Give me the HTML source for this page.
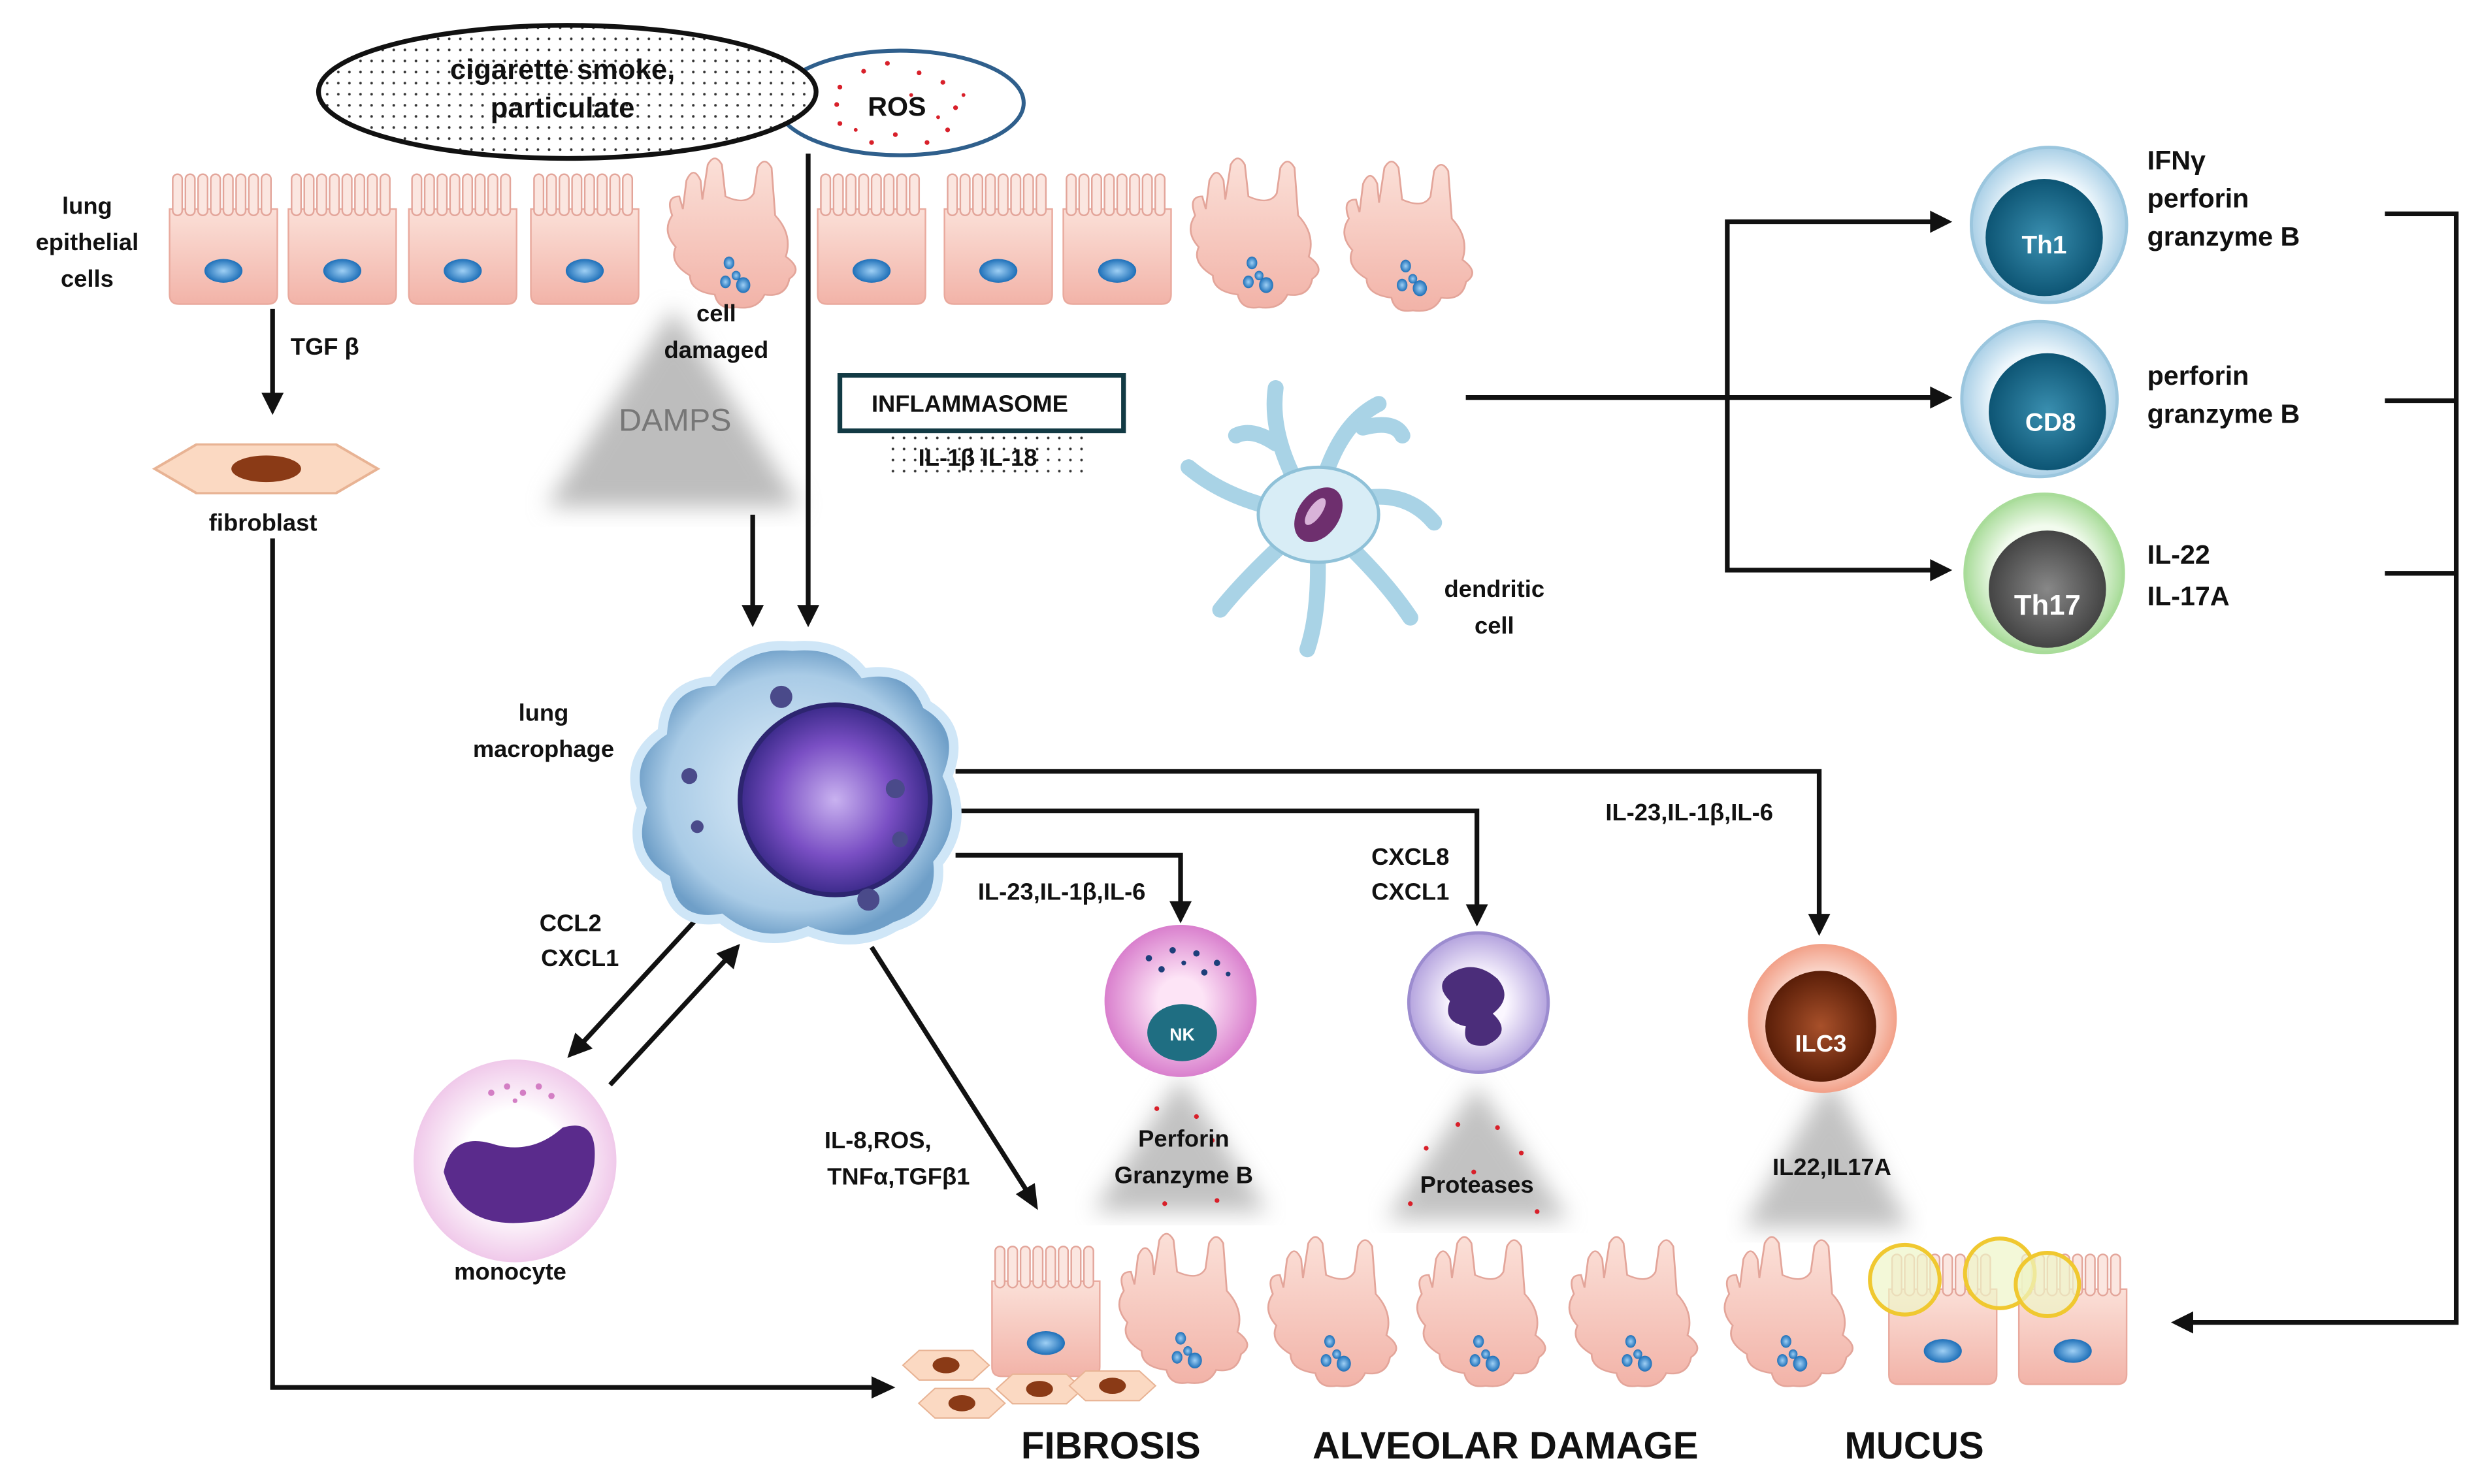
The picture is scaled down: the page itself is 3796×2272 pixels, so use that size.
<!DOCTYPE html>
<html><head><meta charset="utf-8"><style>
html,body{margin:0;padding:0;background:#fff}
svg{display:block}
text{font-family:"Liberation Sans",Arial,sans-serif;font-weight:bold;fill:#111}
</style></head><body>
<svg width="3796" height="2272" viewBox="0 0 1565 937" preserveAspectRatio="none" xmlns="http://www.w3.org/2000/svg">
<defs>
<pattern id="dots" width="7" height="7" patternUnits="userSpaceOnUse"><rect width="7" height="7" fill="#fff"/><circle cx="3.5" cy="3.5" r="0.8" fill="#333"/></pattern>
<linearGradient id="cellg" x1="0" y1="0" x2="0" y2="1"><stop offset="0" stop-color="#fbe0d8"/><stop offset="1" stop-color="#f2b3a8"/></linearGradient>
<radialGradient id="nucg"><stop offset="0" stop-color="#9fd0f5"/><stop offset="1" stop-color="#1d6fb8"/></radialGradient>
<radialGradient id="macg"><stop offset="0" stop-color="#e4f1fb"/><stop offset="0.8" stop-color="#a9cbe6"/><stop offset="1" stop-color="#6f9fc8"/></radialGradient>
<radialGradient id="macn"><stop offset="0" stop-color="#c9b2f0"/><stop offset="0.6" stop-color="#7a4fc4"/><stop offset="1" stop-color="#3b2a8a"/></radialGradient>
<radialGradient id="th1o"><stop offset="0.6" stop-color="#eef7fc"/><stop offset="1" stop-color="#a9cfe6"/></radialGradient>
<radialGradient id="th1i"><stop offset="0" stop-color="#3a8fb0"/><stop offset="1" stop-color="#0d5574"/></radialGradient>
<radialGradient id="th17o"><stop offset="0.6" stop-color="#f2fbee"/><stop offset="1" stop-color="#a9dc9a"/></radialGradient>
<radialGradient id="th17i"><stop offset="0" stop-color="#888"/><stop offset="1" stop-color="#444"/></radialGradient>
<radialGradient id="monog"><stop offset="0.5" stop-color="#fff"/><stop offset="1" stop-color="#f0c9ea"/></radialGradient>
<radialGradient id="nkg"><stop offset="0.3" stop-color="#fde4f6"/><stop offset="1" stop-color="#d97fcd"/></radialGradient>
<radialGradient id="neug"><stop offset="0.4" stop-color="#fbf7ff"/><stop offset="1" stop-color="#b4a3de"/></radialGradient>
<radialGradient id="ilco"><stop offset="0.5" stop-color="#fde9e2"/><stop offset="1" stop-color="#f2a088"/></radialGradient>
<radialGradient id="ilci"><stop offset="0" stop-color="#a8502a"/><stop offset="1" stop-color="#5a1e08"/></radialGradient>
<filter id="blur"><feGaussianBlur stdDeviation="7"/></filter>
<g id="nc">
 <path d="M2,22 L70,22 L70,76 Q70,82 64,82 L8,82 Q2,82 2,76 Z" fill="url(#cellg)" stroke="#e9a99d" stroke-width="1"/>
 <g fill="#fbe6e0" stroke="#e3a59a" stroke-width="1">
 <rect x="4" y="0" width="6" height="26" rx="3"/><rect x="12" y="0" width="6" height="26" rx="3"/><rect x="20" y="0" width="6" height="26" rx="3"/><rect x="28" y="0" width="6" height="26" rx="3"/><rect x="36" y="0" width="6" height="26" rx="3"/><rect x="44" y="0" width="6" height="26" rx="3"/><rect x="52" y="0" width="6" height="26" rx="3"/><rect x="60" y="0" width="6" height="26" rx="3"/>
 </g>
 <ellipse cx="36" cy="61" rx="12" ry="7.5" fill="url(#nucg)"/>
</g>
<g id="dc0">
 <path d="M10,40 Q6,28 14,28 L16,36 L18,18 Q22,8 26,18 L27,30 L30,8 Q34,0 38,8 L40,28 Q52,34 56,26 L58,10 Q62,2 66,10 L68,40 Q78,52 74,66 Q84,74 76,80 Q74,92 62,90 Q58,100 46,98 Q36,100 34,90 Q20,88 20,78 Q8,70 12,60 Q4,50 10,40 Z" fill="url(#cellg)" stroke="#e3a59a" stroke-width="1"/>
 <g fill="url(#nucg)"><ellipse cx="42" cy="70" rx="3" ry="4"/><ellipse cx="46" cy="78" rx="2.5" ry="3"/><ellipse cx="40" cy="82" rx="3" ry="4"/><ellipse cx="50" cy="84" rx="4" ry="5"/></g>
</g>
<g id="dc"><use href="#dc0" transform="scale(1.12,1)"/></g>
<g id="fb">
 <polygon points="-32,0 -20,-11 20,-11 32,0 20,11 -20,11" fill="#fbd9c2" stroke="#e8b394" stroke-width="1"/>
 <ellipse cx="0" cy="0" rx="10" ry="6" fill="#8a3a16"/>
</g>
</defs>

<ellipse cx="568" cy="65" rx="78" ry="33" fill="#fff" stroke="#2f5f8c" stroke-width="2.5"/>
<g fill="#d8202a">
<circle cx="530" cy="55" r="1.5"/><circle cx="545" cy="45" r="1.5"/><circle cx="560" cy="40" r="1.5"/><circle cx="580" cy="46" r="1.5"/><circle cx="595" cy="52" r="1.5"/><circle cx="603" cy="68" r="1.5"/><circle cx="598" cy="82" r="1.5"/><circle cx="585" cy="90" r="1.5"/><circle cx="565" cy="85" r="1.5"/><circle cx="550" cy="90" r="1.5"/><circle cx="530" cy="78" r="1.5"/><circle cx="528" cy="66" r="1.5"/><circle cx="575" cy="60" r="1.2"/><circle cx="592" cy="74" r="1.2"/><circle cx="540" cy="82" r="1.2"/><circle cx="608" cy="60" r="1.2"/>
</g>
<text x="566" y="73" font-size="17" text-anchor="middle">ROS</text>
<ellipse cx="358" cy="58" rx="157" ry="42" fill="url(#dots)" stroke="#111" stroke-width="3"/>
<text x="355" y="50" font-size="18" text-anchor="middle">cigarette smoke,</text>
<text x="355" y="74" font-size="18" text-anchor="middle">particulate</text>

<use href="#nc" x="105" y="110"/><use href="#nc" x="180" y="110"/><use href="#nc" x="256" y="110"/><use href="#nc" x="333" y="110"/>
<use href="#dc" x="413" y="96"/>
<use href="#nc" x="514" y="110"/><use href="#nc" x="594" y="110"/><use href="#nc" x="669" y="110"/>
<use href="#dc" x="743" y="96"/><use href="#dc" x="840" y="98"/>
<text x="55" y="135" font-size="15" text-anchor="middle">lung</text>
<text x="55" y="158" font-size="15" text-anchor="middle">epithelial</text>
<text x="55" y="181" font-size="15" text-anchor="middle">cells</text>

<path d="M425,195 L505,320 L345,320 Z" fill="#bdbdbd" filter="url(#blur)"/>
<text x="426" y="272" font-size="20" style="font-weight:normal;fill:#777" text-anchor="middle">DAMPS</text>
<text x="452" y="203" font-size="15" text-anchor="middle">cell</text>
<text x="452" y="226" font-size="15" text-anchor="middle">damaged</text>

<g stroke="#111" stroke-width="3" fill="none">
<line x1="172" y1="195" x2="172" y2="250"/>
<polyline points="172,340 172,876 553,876"/>
<line x1="475" y1="325" x2="475" y2="385"/>
<line x1="510" y1="97" x2="510" y2="385"/>
<polyline points="925,251 1222,251"/>
<polyline points="1222,140 1090,140 1090,360 1222,360"/>
<polyline points="1505,135 1550,135 1550,835 1380,835"/>
<line x1="1505" y1="253" x2="1550" y2="253"/>
<line x1="1505" y1="362" x2="1550" y2="362"/>
<polyline points="603,487 1148,487 1148,580"/>
<polyline points="603,512 932,512 932,574"/>
<polyline points="603,540 745,540 745,572"/>
<line x1="438" y1="582" x2="368" y2="658"/>
<line x1="385" y1="685" x2="458" y2="606"/>
<line x1="550" y1="598" x2="648" y2="752"/>
</g>
<g fill="#111">
<polygon points="165,248 179,248 172,262"/>
<polygon points="550,869 550,883 565,876"/>
<polygon points="468,382 482,382 475,396"/>
<polygon points="503,382 517,382 510,396"/>
<polygon points="1218,244 1218,258 1232,251"/>
<polygon points="1218,133 1218,147 1232,140"/>
<polygon points="1218,353 1218,367 1232,360"/>
<polygon points="1384,828 1384,842 1370,835"/>
<polygon points="1141,577 1155,577 1148,591"/>
<polygon points="925,571 939,571 932,585"/>
<polygon points="738,569 752,569 745,583"/>
<polygon points="358,668 363,652 374,662"/>
<polygon points="467,596 452,602 463,612"/>
<polygon points="655,764 641,754 653,747"/>
</g>
<text x="205" y="224" font-size="15" text-anchor="middle">TGF β</text>
<use href="#fb" transform="translate(168,296) scale(2.2,1.4)"/>
<text x="166" y="335" font-size="15" text-anchor="middle">fibroblast</text>

<rect x="530" y="237" width="179" height="35" fill="#fff" stroke="#123a44" stroke-width="3"/>
<text x="612" y="260" font-size="15" text-anchor="middle">INFLAMMASOME</text>
<rect x="560" y="275" width="125" height="27" fill="url(#dots)"/>
<text x="617" y="294" font-size="15" text-anchor="middle">IL-1β  IL-18</text>

<g stroke="#a9d3e6" stroke-width="10" stroke-linecap="round" fill="none">
<path d="M830,325 Q800,280 805,245"/><path d="M830,325 Q840,270 870,255"/><path d="M830,325 Q880,300 905,330"/><path d="M830,325 Q870,360 890,390"/><path d="M830,325 Q835,380 825,410"/><path d="M830,325 Q790,360 770,385"/><path d="M830,325 Q780,320 750,295"/><path d="M805,280 Q790,270 780,275"/><path d="M860,270 Q880,265 885,275"/>
</g>
<ellipse cx="832" cy="325" rx="38" ry="30" fill="#d8edf6" stroke="#8fc1d8" stroke-width="2"/>
<ellipse cx="832" cy="325" rx="13" ry="19" transform="rotate(35 832 325)" fill="#6e2f6e"/>
<ellipse cx="830" cy="323" rx="4" ry="10" transform="rotate(35 830 323)" fill="#d9b3d9"/>
<text x="943" y="377" font-size="15" text-anchor="middle">dendritic</text>
<text x="943" y="400" font-size="15" text-anchor="middle">cell</text>

<circle cx="1293" cy="142" r="49" fill="url(#th1o)" stroke="#9bc6de" stroke-width="2"/>
<circle cx="1290" cy="150" r="37" fill="url(#th1i)"/>
<text x="1290" y="160" font-size="16" style="fill:#fff" text-anchor="middle">Th1</text>
<circle cx="1287" cy="252" r="49" fill="url(#th1o)" stroke="#9bc6de" stroke-width="2"/>
<circle cx="1292" cy="260" r="37" fill="url(#th1i)"/>
<text x="1294" y="272" font-size="16" style="fill:#fff" text-anchor="middle">CD8</text>
<circle cx="1290" cy="362" r="50" fill="url(#th17o)" stroke="#a9dc9a" stroke-width="2"/>
<circle cx="1292" cy="372" r="37" fill="url(#th17i)"/>
<text x="1292" y="388" font-size="18" style="fill:#fff" text-anchor="middle">Th17</text>
<g font-size="17">
<text x="1355" y="107">IFNγ</text><text x="1355" y="131">perforin</text><text x="1355" y="155">granzyme B</text>
<text x="1355" y="243">perforin</text><text x="1355" y="267">granzyme B</text>
<text x="1355" y="356">IL-22</text><text x="1355" y="382">IL-17A</text>
</g>

<path d="M500,408 Q530,405 545,425 Q575,420 585,445 Q610,460 598,490 Q612,520 592,545 Q595,575 565,585 Q540,600 510,588 Q480,600 455,580 Q425,585 420,555 Q395,540 405,510 Q392,480 418,462 Q420,432 450,430 Q470,405 500,408 Z" fill="url(#macg)" stroke="#cfe6f7" stroke-width="6"/>
<circle cx="527" cy="505" r="60" fill="url(#macn)" stroke="#2d2570" stroke-width="3"/>
<g fill="#4a4a8a"><circle cx="493" cy="440" r="7"/><circle cx="435" cy="490" r="5"/><circle cx="565" cy="498" r="6"/><circle cx="548" cy="568" r="7"/><circle cx="440" cy="522" r="4"/><circle cx="568" cy="530" r="5"/></g>
<text x="343" y="455" font-size="15" text-anchor="middle">lung</text>
<text x="343" y="478" font-size="15" text-anchor="middle">macrophage</text>

<g font-size="15">
<text x="1066" y="518" text-anchor="middle">IL-23,IL-1β,IL-6</text>
<text x="890" y="546" text-anchor="middle">CXCL8</text><text x="890" y="568" text-anchor="middle">CXCL1</text>
<text x="670" y="568" text-anchor="middle">IL-23,IL-1β,IL-6</text>
<text x="360" y="588" text-anchor="middle">CCL2</text><text x="366" y="610" text-anchor="middle">CXCL1</text>
<text x="554" y="725" text-anchor="middle">IL-8,ROS,</text><text x="567" y="748" text-anchor="middle">TNFα,TGFβ1</text>
</g>

<circle cx="325" cy="733" r="64" fill="url(#monog)"/>
<path d="M280,740 Q285,715 310,722 Q335,730 355,712 Q378,705 375,735 Q370,770 330,772 Q290,775 280,740 Z" fill="#5a2b8c"/>
<g fill="#d37ec4"><circle cx="310" cy="690" r="2"/><circle cx="320" cy="686" r="2"/><circle cx="330" cy="690" r="2"/><circle cx="340" cy="686" r="2"/><circle cx="348" cy="692" r="2"/><circle cx="325" cy="695" r="1.5"/></g>
<text x="322" y="808" font-size="15" text-anchor="middle">monocyte</text>

<path d="M745,680 L800,765 L690,765 Z" fill="#c2c2c2" filter="url(#blur)"/>
<path d="M932,685 L990,770 L875,770 Z" fill="#c2c2c2" filter="url(#blur)"/>
<path d="M1155,680 L1205,775 L1100,775 Z" fill="#c2c2c2" filter="url(#blur)"/>
<g fill="#d8202a"><circle cx="730" cy="700" r="1.5"/><circle cx="755" cy="705" r="1.5"/><circle cx="765" cy="720" r="1.5"/><circle cx="735" cy="760" r="1.5"/><circle cx="768" cy="758" r="1.5"/><circle cx="900" cy="725" r="1.5"/><circle cx="920" cy="710" r="1.5"/><circle cx="945" cy="712" r="1.5"/><circle cx="960" cy="728" r="1.5"/><circle cx="890" cy="760" r="1.5"/><circle cx="970" cy="765" r="1.5"/><circle cx="930" cy="740" r="1.5"/></g>

<circle cx="745" cy="632" r="48" fill="url(#nkg)"/>
<g fill="#1d3f7a"><circle cx="725" cy="605" r="2"/><circle cx="740" cy="600" r="2"/><circle cx="755" cy="602" r="2"/><circle cx="768" cy="608" r="2"/><circle cx="733" cy="612" r="2"/><circle cx="760" cy="614" r="2"/><circle cx="747" cy="608" r="1.5"/><circle cx="775" cy="615" r="1.5"/></g>
<ellipse cx="746" cy="652" rx="22" ry="18" fill="#1f6e82"/>
<text x="746" y="657" font-size="11" style="fill:#fff" text-anchor="middle">NK</text>
<text x="747" y="724" font-size="15" text-anchor="middle">Perforin</text>
<text x="747" y="747" font-size="15" text-anchor="middle">Granzyme B</text>

<circle cx="933" cy="633" r="44" fill="url(#neug)" stroke="#9c8ccf" stroke-width="2"/>
<path d="M915,615 Q930,605 945,618 Q955,630 942,640 Q955,652 938,660 Q922,662 925,648 Q910,645 915,632 Q905,622 915,615 Z" fill="#4b2d7a"/>
<text x="932" y="753" font-size="15" text-anchor="middle">Proteases</text>

<circle cx="1150" cy="643" r="47" fill="url(#ilco)"/>
<circle cx="1149" cy="648" r="35" fill="url(#ilci)"/>
<text x="1149" y="664" font-size="15" style="fill:#fff" text-anchor="middle">ILC3</text>
<text x="1156" y="742" font-size="15" text-anchor="middle">IL22,IL17A</text>

<use href="#nc" x="624" y="787"/>
<use href="#dc" x="698" y="775"/><use href="#dc" x="792" y="777"/><use href="#dc" x="886" y="777"/><use href="#dc" x="982" y="777"/><use href="#dc" x="1080" y="777"/>
<use href="#nc" x="1190" y="792"/><use href="#nc" x="1272" y="792"/>
<g fill="#eef5c8" fill-opacity="0.7" stroke="#f0c830" stroke-width="2.5">
<circle cx="1202" cy="808" r="22"/><circle cx="1262" cy="804" r="22"/><circle cx="1292" cy="811" r="20"/>
</g>
<use href="#fb" transform="translate(597,862) scale(0.85)"/>
<use href="#fb" transform="translate(607,886) scale(0.85)"/>
<use href="#fb" transform="translate(656,877) scale(0.85)"/>
<use href="#fb" transform="translate(702,875) scale(0.85)"/>

<g font-size="24">
<text x="701" y="921" text-anchor="middle">FIBROSIS</text>
<text x="950" y="921" text-anchor="middle">ALVEOLAR DAMAGE</text>
<text x="1208" y="921" text-anchor="middle">MUCUS</text>
</g>
</svg>
</body></html>
